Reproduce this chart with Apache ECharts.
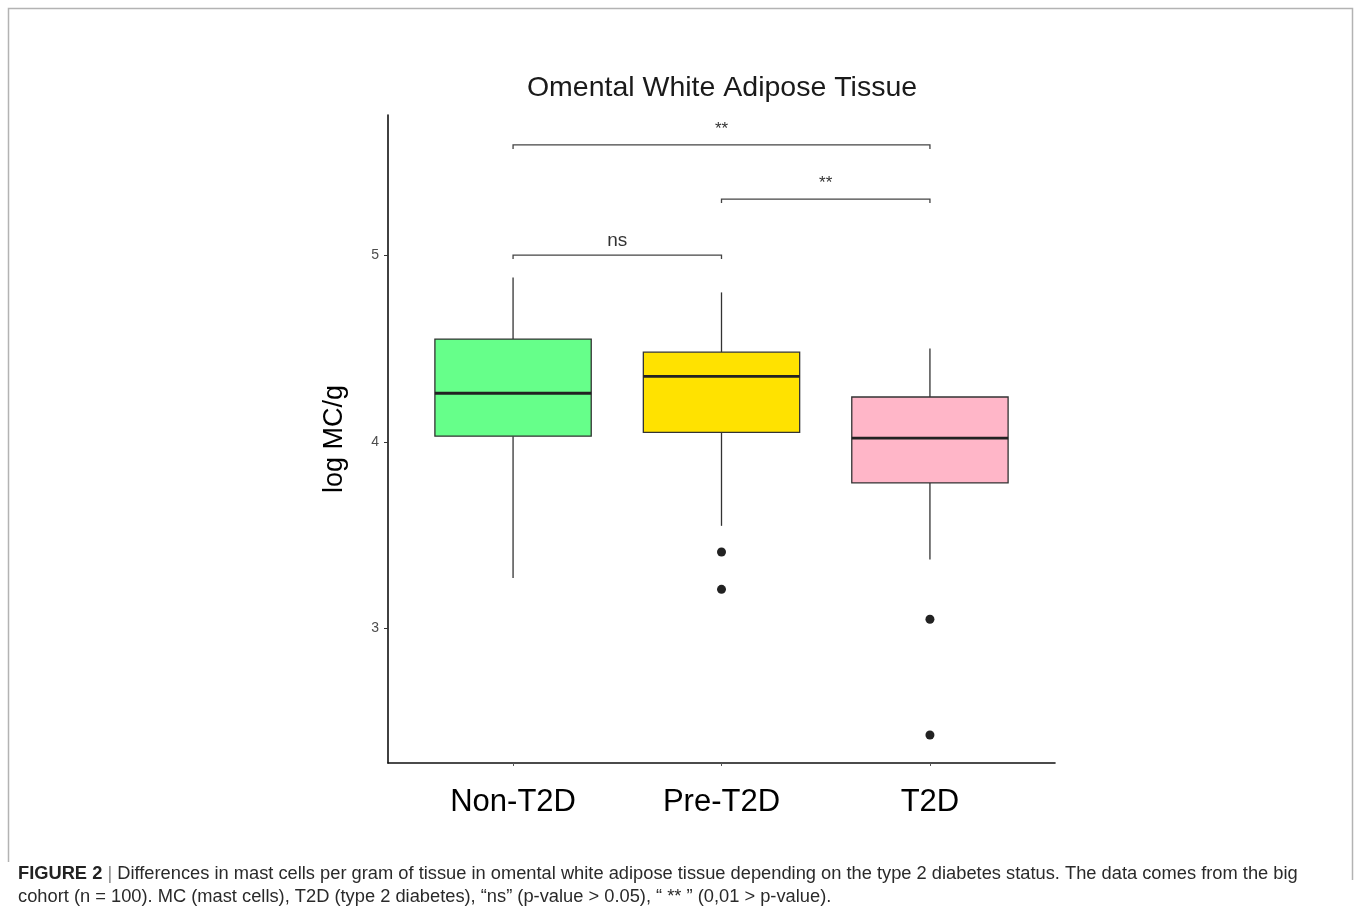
<!DOCTYPE html>
<html>
<head>
<meta charset="utf-8">
<script src="https://cdn.jsdelivr.net/npm/echarts@6/dist/echarts.min.js"></script>
<style>
html,body{margin:0;padding:0;background:#fff;}
#chart{width:1355px;height:909px;}
</style>
</head>
<body>
<div id="chart"></div>
<script>
// ---- data ----
const categories = ['Non-T2D', 'Pre-T2D', 'T2D'];
// [lower whisker, Q1, median, Q3, upper whisker]
const boxNonT2D = [3.27, 4.03, 4.26, 4.55, 4.88];
const boxPreT2D = [3.55, 4.05, 4.35, 4.48, 4.80];
const boxT2D    = [3.37, 3.78, 4.02, 4.24, 4.50];
const outlierGroup = [2, 2, 3, 3];
const outlierValue = [3.41, 3.21, 3.05, 2.43];
const yTicks = [3, 4, 5];
// significance brackets: from category, to category, height, label
const bracketFrom = [1, 2, 1];
const bracketTo = [2, 3, 3];
const bracketY = [5.00, 5.30, 5.59];
const bracketLabel = ['ns', '**', '**'];
const boxColors = ['#66FF8A', '#FFE200', '#FFB6C8'];

const boxes = [boxNonT2D, boxPreT2D, boxT2D];
const boxData = boxes.map((b, i) => [i + 1].concat(b));
const outlierData = outlierGroup.map((g, i) => [g, outlierValue[i]]);
const bracketData = bracketFrom.map((f, i) => [f, bracketTo[i], bracketY[i], i]);

const chart = echarts.init(document.getElementById('chart'));
const option = {
  backgroundColor: '#fff',
  animation: false,
  title: {
    text: 'Omental White Adipose Tissue',
    left: 717, top: 69, textAlign: 'center',
    textStyle: {fontFamily: 'Liberation Sans', fontSize: 28.5, fontWeight: 'normal', color: '#1a1a1a'}
  },
  grid: {left: 388, right: 300, top: 115, bottom: 146, containLabel: false},
  xAxis: {
    type: 'value', min: 0.4, max: 3.6,
    splitLine: {show: false},
    axisLine: {show: true, lineStyle: {color: '#111', width: 1.6}},
    axisTick: {show: true, length: 3, customValues: [1, 2, 3], lineStyle: {color: '#555'}},
    axisLabel: {
      customValues: [1, 2, 3], margin: 24,
      formatter: v => categories[Math.round(v) - 1] || '',
      fontFamily: 'Liberation Sans', fontSize: 31, color: '#000'
    }
  },
  yAxis: {
    type: 'value', min: 2.28, max: 5.75,
    name: 'log MC/g', nameLocation: 'middle', nameGap: 40, nameRotate: 90,
    nameTextStyle: {fontFamily: 'Liberation Sans', fontSize: 27, color: '#000'},
    splitLine: {show: false},
    axisLine: {show: true, lineStyle: {color: '#111', width: 1.6}},
    axisTick: {show: true, length: 4, customValues: yTicks, lineStyle: {color: '#333'}},
    axisLabel: {customValues: yTicks, margin: 9, fontFamily: 'Liberation Sans', fontSize: 14, color: '#4d4d4d'}
  },
  series: [
    {
      type: 'custom',
      data: boxData,
      encode: {x: 0, y: [1, 2, 3, 4, 5]},
      renderItem: function (params, api) {
        const x = api.value(0);
        const lo = api.coord([x, api.value(1)]);
        const q1 = api.coord([x, api.value(2)]);
        const md = api.coord([x, api.value(3)]);
        const q3 = api.coord([x, api.value(4)]);
        const hi = api.coord([x, api.value(5)]);
        const left = api.coord([x - 0.375, api.value(3)])[0];
        const right = api.coord([x + 0.375, api.value(3)])[0];
        const stroke = '#333';
        return {
          type: 'group',
          children: [
            {type: 'line', shape: {x1: lo[0], y1: lo[1], x2: q1[0], y2: q1[1]}, style: {stroke: stroke, lineWidth: 1.3}},
            {type: 'line', shape: {x1: q3[0], y1: q3[1], x2: hi[0], y2: hi[1]}, style: {stroke: stroke, lineWidth: 1.3}},
            {type: 'rect', shape: {x: left, y: q3[1], width: right - left, height: q1[1] - q3[1]},
             style: {fill: boxColors[params.dataIndex], stroke: stroke, lineWidth: 1.3}},
            {type: 'line', shape: {x1: left, y1: md[1], x2: right, y2: md[1]}, style: {stroke: '#222', lineWidth: 2.8}}
          ]
        };
      }
    },
    {
      type: 'scatter',
      data: outlierData,
      symbol: 'circle', symbolSize: 9,
      itemStyle: {color: '#222', opacity: 1}
    },
    {
      type: 'custom',
      data: bracketData,
      encode: {x: [0, 1], y: 2},
      renderItem: function (params, api) {
        const a = api.coord([api.value(0), api.value(2)]);
        const b = api.coord([api.value(1), api.value(2)]);
        const t = 4;
        const lbl = bracketLabel[api.value(3)];
        return {
          type: 'group',
          children: [
            {type: 'polyline', shape: {points: [[a[0], a[1] + t], [a[0], a[1]], [b[0], b[1]], [b[0], b[1] + t]]},
             style: {stroke: '#444', lineWidth: 1.3, fill: null}},
            {type: 'text', x: (a[0] + b[0]) / 2, y: a[1] - (lbl === 'ns' ? 5 : 7),
             style: {text: lbl, textAlign: 'center', textVerticalAlign: 'bottom',
                     fontFamily: 'Liberation Sans', fontSize: lbl === 'ns' ? 19 : 17, fill: '#333'}}
          ]
        };
      }
    }
  ],
  graphic: [
    {type: 'polyline', shape: {points: [[8.5, 862], [8.5, 8.5], [1352.5, 8.5], [1352.5, 880]]},
     style: {stroke: '#b3b3b3', lineWidth: 1.5, fill: null}, silent: true},
    {type: 'text', left: 18, top: 865,
     style: {
       text: '{b|FIGURE 2} {s||} Differences in mast cells per gram of tissue in omental white adipose tissue depending on the type 2 diabetes status. The data comes from the big',
       rich: {b: {fontWeight: 'bold', fontFamily: 'Liberation Sans', fontSize: 18.3, fill: '#222'},
              s: {fontFamily: 'Liberation Sans', fontSize: 18.3, fill: '#888'}},
       fontFamily: 'Liberation Sans', fontSize: 18.3, fill: '#2a2a2a'
     }},
    {type: 'text', left: 18, top: 888,
     style: {
       text: 'cohort (n = 100). MC (mast cells), T2D (type 2 diabetes), \u201cns\u201d (p-value > 0.05), \u201c ** \u201d (0,01 > p-value).',
       fontFamily: 'Liberation Sans', fontSize: 18.3, fill: '#2a2a2a'
     }}
  ]
};
chart.setOption(option);
</script>
</body>
</html>
